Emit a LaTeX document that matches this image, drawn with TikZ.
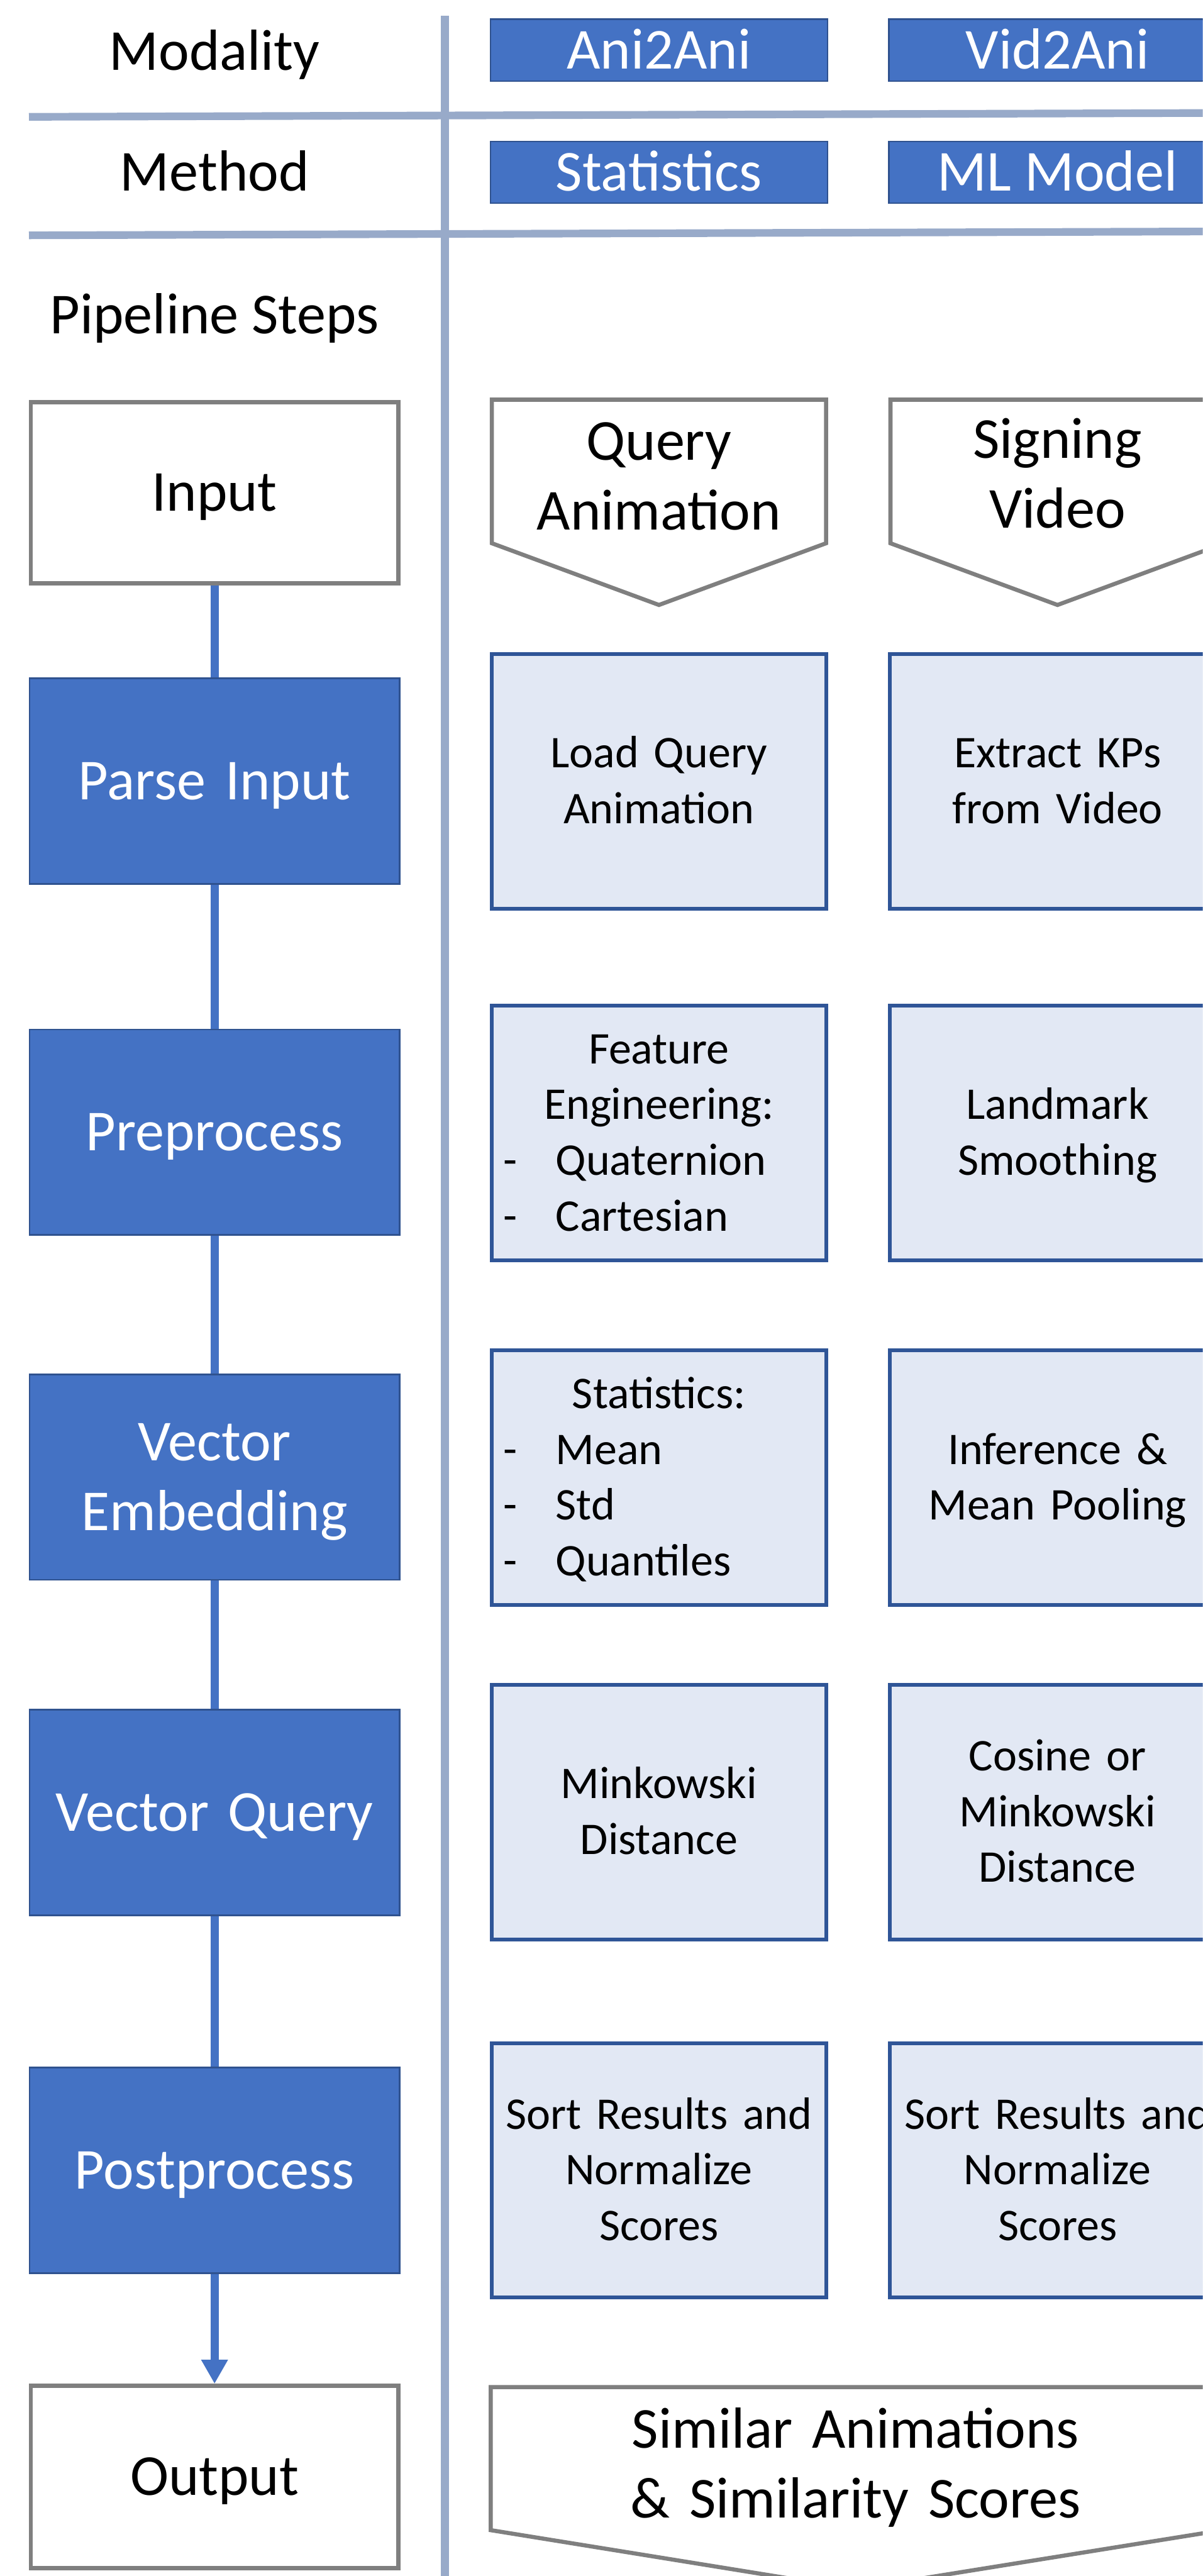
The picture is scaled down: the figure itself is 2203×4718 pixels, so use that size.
\documentclass[tikz,border=0pt]{standalone}
\usepackage{fontspec}
\setmainfont{Carlito}
\usetikzlibrary{arrows.meta}
\definecolor{accblue}{HTML}{4472C4}
\definecolor{accedge}{HTML}{2F528F}
\definecolor{paleblue}{HTML}{E2E8F4}
\definecolor{paleedge}{HTML}{2F5597}
\definecolor{greyedge}{HTML}{7F7F7F}
\definecolor{rulecol}{HTML}{98AAC9}
\tikzset{
  bigtxt/.style={font=\fontsize{30.2pt}{36.4pt}\selectfont},
  smalltxt/.style={font=\fontsize{23.6pt}{29pt}\selectfont},
  bone/.style={text height=19.09pt, text depth=0pt},
  btwo/.style={text height=19.09pt, text depth=36.4pt},
  stwo/.style={text height=14.92pt, text depth=29pt},
  sthree/.style={text height=14.92pt, text depth=58pt},
  sfour/.style={text height=14.92pt, text depth=87pt},
  plainlbl/.style={inner sep=0pt, bigtxt, bone},
  hdrbox/.style={rectangle, fill=accblue, draw=accedge, line width=0.03cm,
    minimum width=6.17cm, minimum height=1.13cm, inner sep=0pt, text=white, bigtxt, bone},
  stepbox/.style={rectangle, fill=accblue, draw=accedge, line width=0.03cm,
    minimum width=6.77cm, minimum height=3.76cm, inner sep=0pt, text=white, bigtxt,
    text width=6.5cm, align=center},
  iobox/.style={rectangle, fill=white, draw=greyedge, line width=0.075cm,
    minimum width=6.725cm, minimum height=3.315cm, inner sep=0pt, bigtxt, bone},
  procbox/.style={rectangle, fill=paleblue, draw=paleedge, line width=0.07cm,
    minimum width=6.13cm, minimum height=4.66cm, inner sep=0pt, smalltxt,
    text width=6.0cm, align=center},
  chevron/.style={draw=greyedge, line width=0.075cm, fill=white},
  chevtxt/.style={inner sep=0pt, bigtxt, btwo, align=center},
  flow/.style={draw=accblue, line width=0.15cm},
  rulefine/.style={draw=rulecol, line width=0.14cm},
}
\newcommand{\dashitem}[1]{\makebox[0.96cm][l]{-}#1}
\begin{document}
\begin{tikzpicture}[x=0.01cm, y=-0.01cm]
\useasboundingbox (0,0) rectangle (2203,4718);
\clip (0,0) rectangle (2203,4718);

% grid rules
\draw[rulefine] (53,214) -- (2203,207);
\draw[rulefine] (53,431) -- (2203,424);
\draw[draw=rulecol, line width=0.15cm] (815,29) -- (815,4718);

% row labels
\node[plainlbl] (lmod) at (393,95) {Modality};
\node[plainlbl] (lmeth) at (393,316) {Method};
\node[plainlbl] (lpipe) at (393,578) {Pipeline Steps};

% header boxes
\node[hdrbox] (hani) at (1207,92) {Ani2Ani};
\node[hdrbox] (hvid) at (1937,92) {Vid2Ani};
\node[hdrbox] (hstat) at (1207,315.5) {Statistics};
\node[hdrbox] (hml) at (1937,315.5) {ML Model};

% left pipeline
\node[iobox] (input) at (393,902.5) {Input};
\node[stepbox, bone] (parse) at (393,1430.5) {Parse Input};
\node[stepbox, bone] (prep) at (393,2073.5) {Preprocess};
\node[stepbox, btwo] (embed) at (393,2705.5) {Vector\\Embedding};
\node[stepbox, bone] (vquery) at (393,3319.5) {Vector Query};
\node[stepbox, bone] (post) at (393,3975) {Postprocess};
\node[iobox, minimum height=3.335cm] (output) at (393,4536.5) {Output};

\draw[flow] (input) -- (parse);
\draw[flow] (parse) -- (prep);
\draw[flow] (prep) -- (embed);
\draw[flow] (embed) -- (vquery);
\draw[flow] (vquery) -- (post);
\draw[flow, -{Triangle[width=0.46cm, length=0.44cm]}] (post) -- (output);

% input chevrons
\draw[chevron] (901,732) -- (1513,732) -- (1513,995) -- (1207,1108) -- (901,995) -- cycle;
\draw[chevron] (1631,732) -- (2243,732) -- (2243,995) -- (1937,1108) -- (1631,995) -- cycle;
\node[chevtxt, text width=6cm] (qanim) at (1207,873) {Query\\Animation};
\node[chevtxt, text width=6cm] (svid) at (1937,869) {Signing\\Video};

% process boxes, column 1
\node[procbox, stwo] (load) at (1207,1431) {Load Query\\Animation};
\node[procbox, sfour, text width=5.7cm, align=left] (feat) at (1207,2075)
  {\makebox[5.7cm]{Feature}\\\makebox[5.7cm]{Engineering:}\\\dashitem{Quaternion}\\\dashitem{Cartesian}};
\node[procbox, sfour, text width=5.7cm, align=left] (stats) at (1207,2706.5)
  {\makebox[5.7cm]{Statistics:}\\\dashitem{Mean}\\\dashitem{Std}\\\dashitem{Quantiles}};
\node[procbox, stwo] (mink) at (1207,3319) {Minkowski\\Distance};
\node[procbox, sthree] (sort1) at (1207,3975) {Sort Results and\\Normalize\\Scores};

% process boxes, column 2
\node[procbox, stwo] (extract) at (1937,1431) {Extract KPs\\from Video};
\node[procbox, stwo] (smooth) at (1937,2075) {Landmark\\Smoothing};
\node[procbox, stwo] (infer) at (1937,2706.5) {Inference \&\\Mean Pooling};
\node[procbox, sthree] (cosine) at (1937,3319) {Cosine or\\Minkowski\\Distance};
\node[procbox, sthree] (sort2) at (1937,3975) {Sort Results and\\Normalize\\Scores};

% output chevron
\draw[chevron] (899,4372) -- (2239,4372) -- (2239,4634) -- (1567,4742) -- (899,4634) -- cycle;
\node[chevtxt, text width=12cm] (simout) at (1567,4514) {Similar Animations\\\& Similarity Scores};
\end{tikzpicture}
\end{document}
